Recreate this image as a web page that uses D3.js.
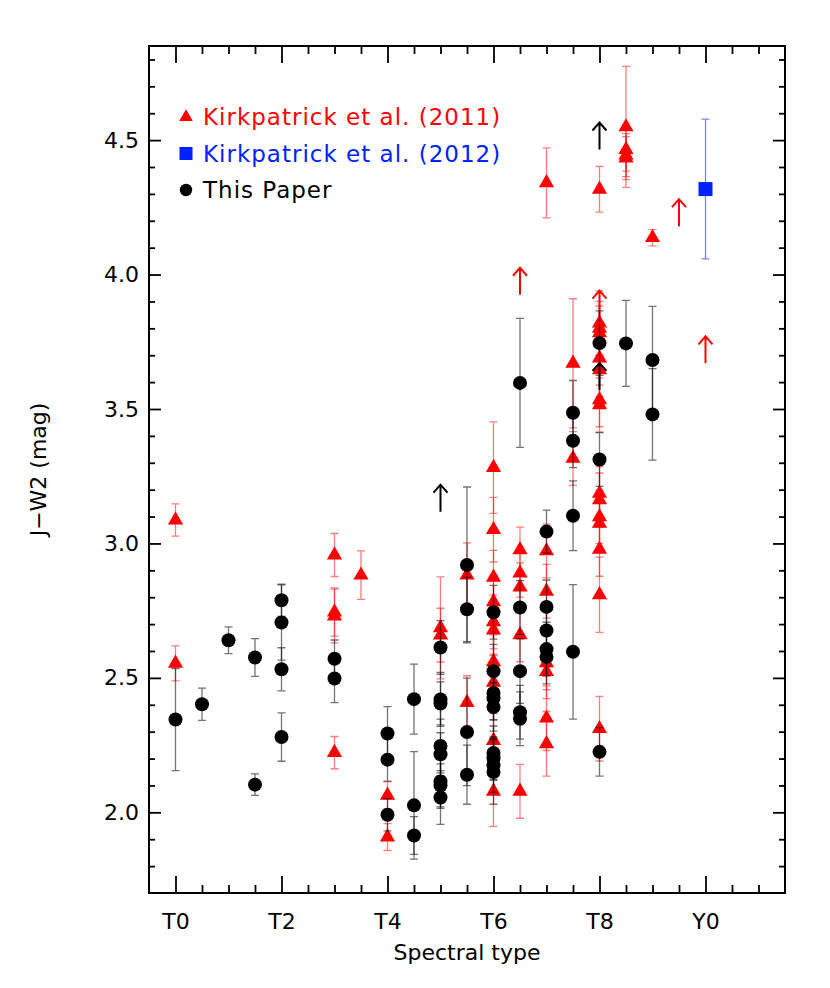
<!DOCTYPE html>
<html>
<head>
<meta charset="utf-8">
<script src="https://cdn.jsdelivr.net/npm/d3@7"></script>
<style>
  body { margin: 0; background: #fff; }
  text { font-family: "DejaVu Sans", sans-serif; }
</style>
</head>
<body>
<script>
// spectral type as a number: T0 = 0 ... T9 = 9, Y0 = 10
// Kirkpatrick et al. (2011) - red triangles
var k11Type = [0, 0, 3, 3, 3, 3, 3.5, 4, 4, 5, 5, 5.5, 5.5,
    6, 6, 6, 6, 6, 6, 6, 6, 6, 6,
    6.5, 6.5, 6.5, 6.5, 6.5,
    7, 7, 7, 7, 7, 7, 7,
    7.5, 7.5,
    8, 8, 8, 8, 8, 8, 8, 8, 8, 8, 8, 8, 8, 8, 8,
    8.5, 8.5, 8.5, 8.5, 9];
var k11Color = [3.087, 2.554, 2.957, 2.745, 2.73, 2.222, 2.882, 2.063, 1.908, 2.686, 2.659, 2.882, 2.408,
    3.282, 3.051, 2.874, 2.783, 2.708, 2.678, 2.56, 2.483, 2.267, 2.078,
    2.976, 2.89, 2.838, 2.66, 2.078,
    4.341, 2.972, 2.822, 2.556, 2.523, 2.35, 2.255,
    3.67, 3.316,
    4.317, 3.819, 3.80, 3.783, 3.689, 3.646, 3.534, 3.515, 3.186, 3.162, 3.099, 3.075, 2.978, 2.809, 2.311,
    4.549, 4.465, 4.444, 4.433, 4.137];
var k11Err = [0.06, 0.065, 0.08, 0.09, 0.1, 0.06, 0.09, 0.05, 0.05, 0.19, 0.1, 0.12, 0.1,
    0.17, 0.12, 0.1, 0.1, 0.1, 0.09, 0.1, 0.1, 0.1, 0.13,
    0.085, 0.09, 0.09, 0.1, 0.1,
    0.13, 0.1, 0.1, 0.1, 0.1, 0.12, 0.12,
    0.24, 0.1,
    0.085, 0.12, 0.1, 0.1, 0.1, 0.1, 0.1, 0.1, 0.1, 0.1, 0.1, 0.1, 0.1, 0.14, 0.12,
    0.225, 0.08, 0.08, 0.08, 0.03];
// Kirkpatrick et al. (2011) lower limits (red arrows)
var k11LimType = [6.5, 8, 9.5, 10];
var k11LimColor = [3.925, 3.84, 4.18, 3.67];

// Kirkpatrick et al. (2012) - blue square
var k12Type = [10];
var k12Color = [4.318];
var k12Err = [0.26];

// This paper - black circles
var thisType = [0, 0.5, 1, 1.5, 1.5, 2, 2, 2, 2, 3, 3,
    4, 4, 4, 4.5, 4.5, 4.5,
    5, 5, 5, 5, 5, 5, 5, 5,
    5.5, 5.5, 5.5, 5.5,
    6, 6, 6, 6, 6, 6, 6, 6, 6,
    6.5, 6.5, 6.5, 6.5, 6.5,
    7, 7, 7, 7, 7,
    7.5, 7.5, 7.5, 7.5,
    8, 8, 8, 8.5, 9, 9];
var thisColor = [2.345, 2.402, 2.640, 2.576, 2.103, 2.789, 2.706, 2.532, 2.280, 2.571, 2.498,
    2.293, 2.196, 1.991, 2.421, 2.026, 1.914,
    2.613, 2.42, 2.405, 2.247, 2.216, 2.115, 2.10, 2.055,
    2.92, 2.755, 2.299, 2.14,
    2.744, 2.525, 2.444, 2.424, 2.392, 2.221, 2.201, 2.175, 2.15,
    3.597, 2.762, 2.525, 2.372, 2.348,
    3.044, 2.764, 2.676, 2.607, 2.578,
    3.486, 3.382, 3.103, 2.597,
    3.745, 3.312, 2.225, 3.744, 3.682, 3.48];
var thisErr = [0.19, 0.06, 0.05, 0.07, 0.04, 0.06, 0.14, 0.08, 0.09, 0.07, 0.09,
    0.1, 0.08, 0.06, 0.13, 0.2, 0.07,
    0.1, 0.1, 0.08, 0.1, 0.08, 0.1, 0.08, 0.1,
    0.29, 0.12, 0.2, 0.11,
    0.1, 0.1, 0.1, 0.08, 0.09, 0.1, 0.08, 0.1, 0.12,
    0.24, 0.1, 0.12, 0.1, 0.1,
    0.08, 0.1, 0.1, 0.1, 0.1,
    0.12, 0.1, 0.13, 0.25,
    0.12, 0.1, 0.09, 0.16, 0.2, 0.17];
// this paper lower limits (black arrows)
var thisLimType = [5, 8, 8];
var thisLimColor = [3.118, 4.465, 3.571];

// tick labels
var xTickValues = [0, 2, 4, 6, 8, 10];
var xTickLabels = ["T0", "T2", "T4", "T6", "T8", "Y0"];
var yTickValues = [2.0, 2.5, 3.0, 3.5, 4.0, 4.5];

function zip(t, c, e) {
    return t.map(function(d, i) { return {type: d, color: c[i], err: e ? e[i] : 0}; });
}
var k11Data = zip(k11Type, k11Color, k11Err);
var k11Lim = zip(k11LimType, k11LimColor);
var k12Data = zip(k12Type, k12Color, k12Err);
var thisData = zip(thisType, thisColor, thisErr);
var thisLim = zip(thisLimType, thisLimColor);

//SVG area
var svgWidth = 830;
var svgHeight = 988;
var margin = {top: 46, right: 45, bottom: 95, left: 149};
var chartwidth = svgWidth - margin.left - margin.right;
var chartheight = svgHeight - margin.top - margin.bottom;

var svg = d3.select("body")
    .append("svg")
    .attr("width", svgWidth)
    .attr("height", svgHeight);

var chartgroup = svg.append("g")
    .attr("transform", `translate(${margin.left}, ${margin.top})`);

//scales
var xscale = d3.scaleLinear().domain([-0.5, 11.5]).range([0, chartwidth]);
var yscale = d3.scaleLinear().domain([1.7, 4.85]).range([chartheight, 0]);

var xMinor = d3.range(0.5, 11.5, 0.5).filter(d => d % 2 !== 0);
var yMinor = d3.range(1.8, 4.85, 0.1).map(d => +d.toFixed(1)).filter(d => Math.abs(d * 2 - Math.round(d * 2)) > 0.01);

function styleAxis(g) {
    g.select(".domain").remove();
    g.selectAll("line").attr("stroke", "#000").attr("stroke-width", 1.8);
    g.selectAll("text").attr("fill", "#000").style("font-size", "22px")
        .style("font-family", "'DejaVu Sans', sans-serif");
}

// bottom axis
chartgroup.append("g")
    .attr("transform", `translate(0, ${chartheight})`)
    .call(d3.axisBottom(xscale).tickValues(xTickValues).tickSizeInner(-17).tickSizeOuter(0)
        .tickPadding(20).tickFormat((d, i) => xTickLabels[i]))
    .call(styleAxis);
chartgroup.append("g")
    .attr("transform", `translate(0, ${chartheight})`)
    .call(d3.axisBottom(xscale).tickValues(xMinor).tickSizeInner(-8).tickSizeOuter(0).tickFormat(""))
    .call(styleAxis);
// top axis
chartgroup.append("g")
    .call(d3.axisTop(xscale).tickValues(xTickValues).tickSizeInner(-17).tickSizeOuter(0).tickFormat(""))
    .call(styleAxis);
chartgroup.append("g")
    .call(d3.axisTop(xscale).tickValues(xMinor).tickSizeInner(-8).tickSizeOuter(0).tickFormat(""))
    .call(styleAxis);
// left axis
chartgroup.append("g")
    .call(d3.axisLeft(yscale).tickValues(yTickValues).tickSizeInner(-12).tickSizeOuter(0)
        .tickPadding(10).tickFormat(d3.format(".1f")))
    .call(styleAxis);
chartgroup.append("g")
    .call(d3.axisLeft(yscale).tickValues(yMinor).tickSizeInner(-6).tickSizeOuter(0).tickFormat(""))
    .call(styleAxis);
// right axis
chartgroup.append("g")
    .attr("transform", `translate(${chartwidth}, 0)`)
    .call(d3.axisRight(yscale).tickValues(yTickValues).tickSizeInner(-12).tickSizeOuter(0).tickFormat(""))
    .call(styleAxis);
chartgroup.append("g")
    .attr("transform", `translate(${chartwidth}, 0)`)
    .call(d3.axisRight(yscale).tickValues(yMinor).tickSizeInner(-6).tickSizeOuter(0).tickFormat(""))
    .call(styleAxis);

// frame
chartgroup.append("rect")
    .attr("width", chartwidth)
    .attr("height", chartheight)
    .attr("fill", "none")
    .attr("stroke", "#000")
    .attr("stroke-width", 2);

// error bars with caps
function errorBars(data, colour) {
    var g = chartgroup.append("g")
        .attr("stroke", colour)
        .attr("stroke-width", 1.3)
        .attr("fill", "none");
    g.selectAll("path")
        .data(data)
        .enter()
        .append("path")
        .attr("d", function(d) {
            var cx = xscale(d.type);
            var y1 = yscale(d.color + d.err);
            var y2 = yscale(d.color - d.err);
            return `M${cx - 4},${y1}H${cx + 4}M${cx},${y1}V${y2}M${cx - 4},${y2}H${cx + 4}`;
        });
}

// lower limit arrows
function arrows(data, colour) {
    chartgroup.append("g").selectAll("path")
        .data(data)
        .enter()
        .append("path")
        .attr("transform", d => `translate(${xscale(d.type)}, ${yscale(d.color)})`)
        .attr("d", "M0,0V-27M-7,-19L0,-27L7,-19")
        .attr("fill", "none")
        .attr("stroke", colour)
        .attr("stroke-width", 2);
}

var triangle = d3.symbol().type(d3.symbolTriangle).size(100);

// Kirkpatrick 2011
errorBars(k11Data, "rgba(255,0,0,0.5)");
chartgroup.append("g").selectAll("path")
    .data(k11Data)
    .enter()
    .append("path")
    .attr("transform", d => `translate(${xscale(d.type)}, ${yscale(d.color)})`)
    .attr("d", triangle)
    .attr("fill", "#ff0000");
arrows(k11Lim, "#ff0000");

// This paper
errorBars(thisData, "rgba(0,0,0,0.55)");
chartgroup.append("g").selectAll("circle")
    .data(thisData)
    .enter()
    .append("circle")
    .attr("cx", d => xscale(d.type))
    .attr("cy", d => yscale(d.color))
    .attr("r", 7)
    .attr("fill", "#000");
arrows(thisLim, "#000");

// Kirkpatrick 2012
errorBars(k12Data, "rgba(0,0,255,0.5)");
chartgroup.append("g").selectAll("rect")
    .data(k12Data)
    .enter()
    .append("rect")
    .attr("x", d => xscale(d.type) - 7)
    .attr("y", d => yscale(d.color) - 7)
    .attr("width", 14)
    .attr("height", 14)
    .attr("fill", "#0022ff");

// legend
var legendItems = [
    {label: "Kirkpatrick et al. (2011)", colour: "#ff0000", shape: "triangle"},
    {label: "Kirkpatrick et al. (2012)", colour: "#0022ff", shape: "square"},
    {label: "This Paper", colour: "#000", shape: "circle"}
];
var legend = svg.append("g").attr("transform", "translate(186, 117)");
legendItems.forEach(function(item, i) {
    var row = legend.append("g").attr("transform", `translate(0, ${i * 36.5})`);
    if (item.shape === "triangle") {
        row.append("path").attr("d", d3.symbol().type(d3.symbolTriangle).size(80)).attr("fill", item.colour);
    } else if (item.shape === "square") {
        row.append("rect").attr("x", -6.5).attr("y", -6.5).attr("width", 13).attr("height", 13).attr("fill", item.colour);
    } else {
        row.append("circle").attr("r", 6.2).attr("fill", item.colour);
    }
    row.append("text")
        .attr("x", 17)
        .attr("y", 8)
        .style("font-size", "23px")
        .style("letter-spacing", "1px")
        .attr("fill", item.colour)
        .text(item.label);
});

// axis titles
svg.append("text")
    .attr("transform", `translate(46, ${margin.top + chartheight / 2}) rotate(-90)`)
    .attr("text-anchor", "middle")
    .style("font-size", "22px")
    .text("J\u2212W2 (mag)");

svg.append("text")
    .attr("x", margin.left + chartwidth / 2)
    .attr("y", 960)
    .attr("text-anchor", "middle")
    .style("font-size", "22px")
    .text("Spectral type");
</script>
</body>
</html>
